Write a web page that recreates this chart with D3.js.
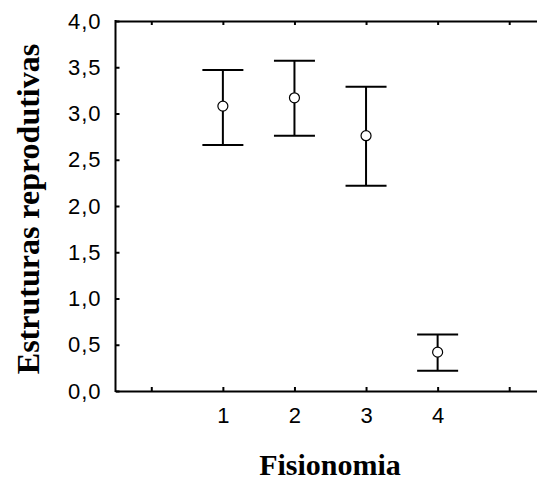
<!DOCTYPE html>
<html>
<head>
<meta charset="utf-8">
<script src="https://cdn.jsdelivr.net/npm/d3@7/dist/d3.min.js"></script>
<style>
  html, body { margin: 0; padding: 0; background: #fff; }
  svg { display: block; }
  .title { font-family: "Liberation Serif", "Times New Roman", serif; font-weight: bold; fill: #000; }
</style>
</head>
<body>
<svg id="chart" width="537" height="481"></svg>
<script>
// Fisionomia groups and the mean with its interval for each
const categories = ["1", "2", "3", "4"];
const means = [3.08, 3.17, 2.76, 0.42];
const upper = [3.47, 3.57, 3.29, 0.61];
const lower = [2.66, 2.76, 2.22, 0.22];
const yTicks = [0, 0.5, 1, 1.5, 2, 2.5, 3, 3.5, 4];
const xTicks = [0, 1, 2, 3, 4, 5];

const svg = d3.select("#chart");
const plotL = 115.5, plotT = 21, plotB = 391, plotR = 545;

const x = d3.scaleLinear().domain([-0.5, 5.5]).range([plotL, plotR]);
const y = d3.scaleLinear().domain([0, 4]).range([plotB, plotT]);

const ptBr = d3.formatLocale({ decimal: ",", thousands: ".", grouping: [3], currency: ["R$", ""] });
const fmt = ptBr.format(".1f");

// Left axis with inward ticks
const gy = svg.append("g").attr("transform", `translate(${plotL},0)`)
  .call(d3.axisLeft(y).tickValues(yTicks).tickFormat(fmt).tickSizeInner(-4).tickSizeOuter(0).tickPadding(15));

// Bottom axis, labelled only at the group positions
const gx = svg.append("g").attr("transform", `translate(0,${plotB})`)
  .call(d3.axisBottom(x).tickValues(xTicks)
    .tickFormat(d => (d >= 1 && d <= categories.length) ? categories[d - 1] : "")
    .tickSizeInner(-4).tickSizeOuter(0).tickPadding(16));

// Top frame line with matching ticks
const gt = svg.append("g").attr("transform", `translate(0,${plotT})`)
  .call(d3.axisTop(x).tickValues(xTicks).tickFormat("").tickSizeInner(-4).tickSizeOuter(0));

[gx, gy, gt].forEach(g => {
  g.attr("font-size", null).attr("font-family", null);
  g.select(".domain").attr("stroke", "#000").attr("stroke-width", 2);
  g.selectAll(".tick line").attr("stroke", "#000").attr("stroke-width", 2);
  g.selectAll(".tick text")
    .style("font-family", "'Liberation Sans', Arial, sans-serif")
    .style("font-size", "22px")
    .attr("fill", "#000");
});
gy.selectAll(".tick text").style("letter-spacing", "1px").attr("dx", "1");
gy.select(".domain").attr("d", `M0,${plotT - 1}V${plotB + 1}`);

// Interval whiskers and mean markers
const capHalf = 20.5;
const grp = svg.append("g");
categories.forEach((c, i) => {
  const cx = x(i + 1);
  grp.append("line").attr("x1", cx).attr("x2", cx).attr("y1", y(upper[i])).attr("y2", y(lower[i]))
    .attr("stroke", "#000").attr("stroke-width", 2);
  [upper[i], lower[i]].forEach(v => {
    grp.append("line").attr("x1", cx - capHalf).attr("x2", cx + capHalf).attr("y1", y(v)).attr("y2", y(v))
      .attr("stroke", "#000").attr("stroke-width", 2);
  });
  grp.append("circle").attr("cx", cx).attr("cy", y(means[i])).attr("r", 5)
    .attr("fill", "#fff").attr("stroke", "#000").attr("stroke-width", 1.2);
});

// Axis titles
svg.append("text").attr("class", "title")
  .attr("x", 330).attr("y", 475).attr("text-anchor", "middle")
  .style("font-size", "30px").text("Fisionomia");

svg.append("text").attr("class", "title")
  .attr("transform", "translate(39,209) rotate(-90)").attr("text-anchor", "middle")
  .style("font-size", "32px").text("Estruturas reprodutivas");
</script>
</body>
</html>
